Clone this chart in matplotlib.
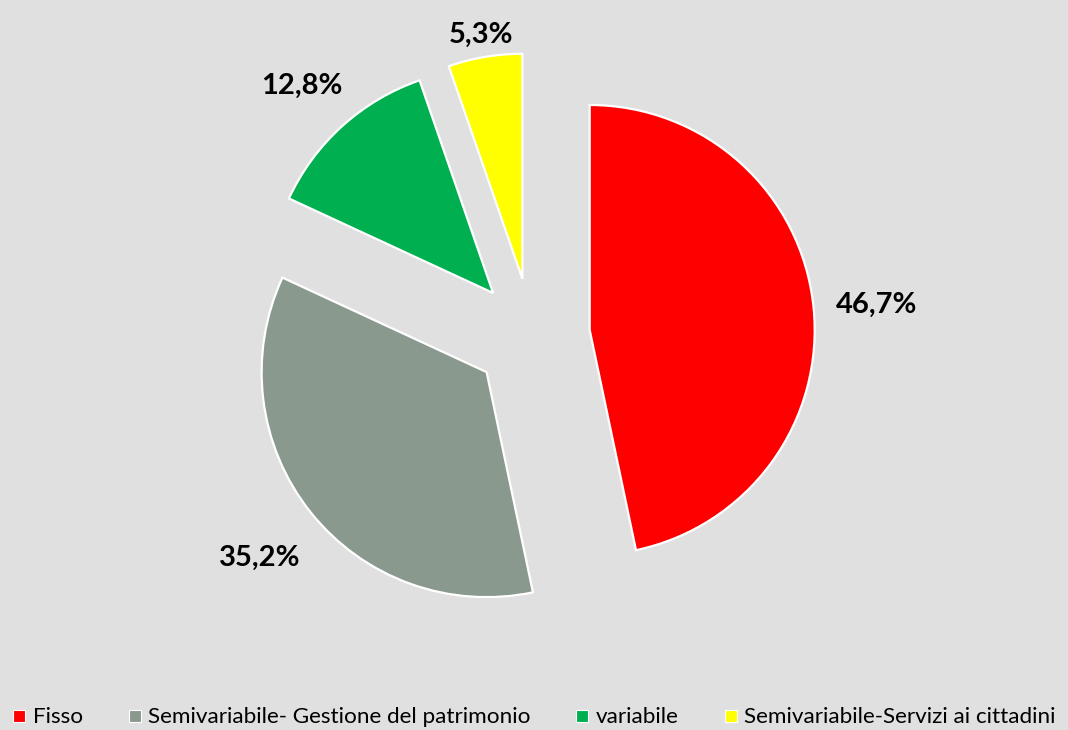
import numpy as np
import matplotlib
matplotlib.use("Agg")
import matplotlib.pyplot as plt
from matplotlib.lines import Line2D

plt.rcParams["font.family"] = ["Lato", "DejaVu Sans"]

# data
categories = ["Fisso", "Semivariabile- Gestione del patrimonio", "variabile",
              "Semivariabile-Servizi ai cittadini"]
shares = [46.7, 35.2, 12.8, 5.3]
pct_labels = ["46,7%", "35,2%", "12,8%", "5,3%"]

COLORS = ["#FF0000", "#8A998E", "#00B050", "#FFFF00"]
BG = "#E0E0E0"

W, H = 1068, 730
fig = plt.figure(figsize=(W / 100, H / 100), dpi=100, facecolor=BG)
ax = fig.add_axes([0, 0, 1, 1])
ax.set_facecolor(BG)

R = 225
wedges, _ = ax.pie(shares, colors=COLORS, startangle=90, counterclock=False,
                   center=(532, H - 336), radius=R, explode=[58] * 4,
                   wedgeprops={"edgecolor": "white", "linewidth": 1.6})
ax.set_xlim(0, W)
ax.set_ylim(0, H)
ax.set_aspect("equal")
ax.axis("off")

# label distance per slice (fraction of radius from exploded center)
label_dist = [1.28, 1.29, 1.27, 1.12]
for w, lab, d in zip(wedges, pct_labels, label_dist):
    th = np.deg2rad((w.theta1 + w.theta2) / 2)
    cx, cy = w.center
    ax.text(cx + d * R * np.cos(th), cy + d * R * np.sin(th) - 5, lab,
            ha="center", va="center", fontsize=21, fontweight="bold", color="black")

handles = [Line2D([], [], marker="s", linestyle="none", markersize=8,
                  markerfacecolor=c, markeredgecolor="white", markeredgewidth=0.8)
           for c in COLORS]
fig.legend(handles, categories, loc="lower left", bbox_to_anchor=(-0.003, -0.018),
           ncol=4, frameon=False, fontsize=16.2, handlelength=0.6,
           handletextpad=0.3, columnspacing=2.0, borderpad=0.2)

fig.savefig("out.png", dpi=100, facecolor=BG)
